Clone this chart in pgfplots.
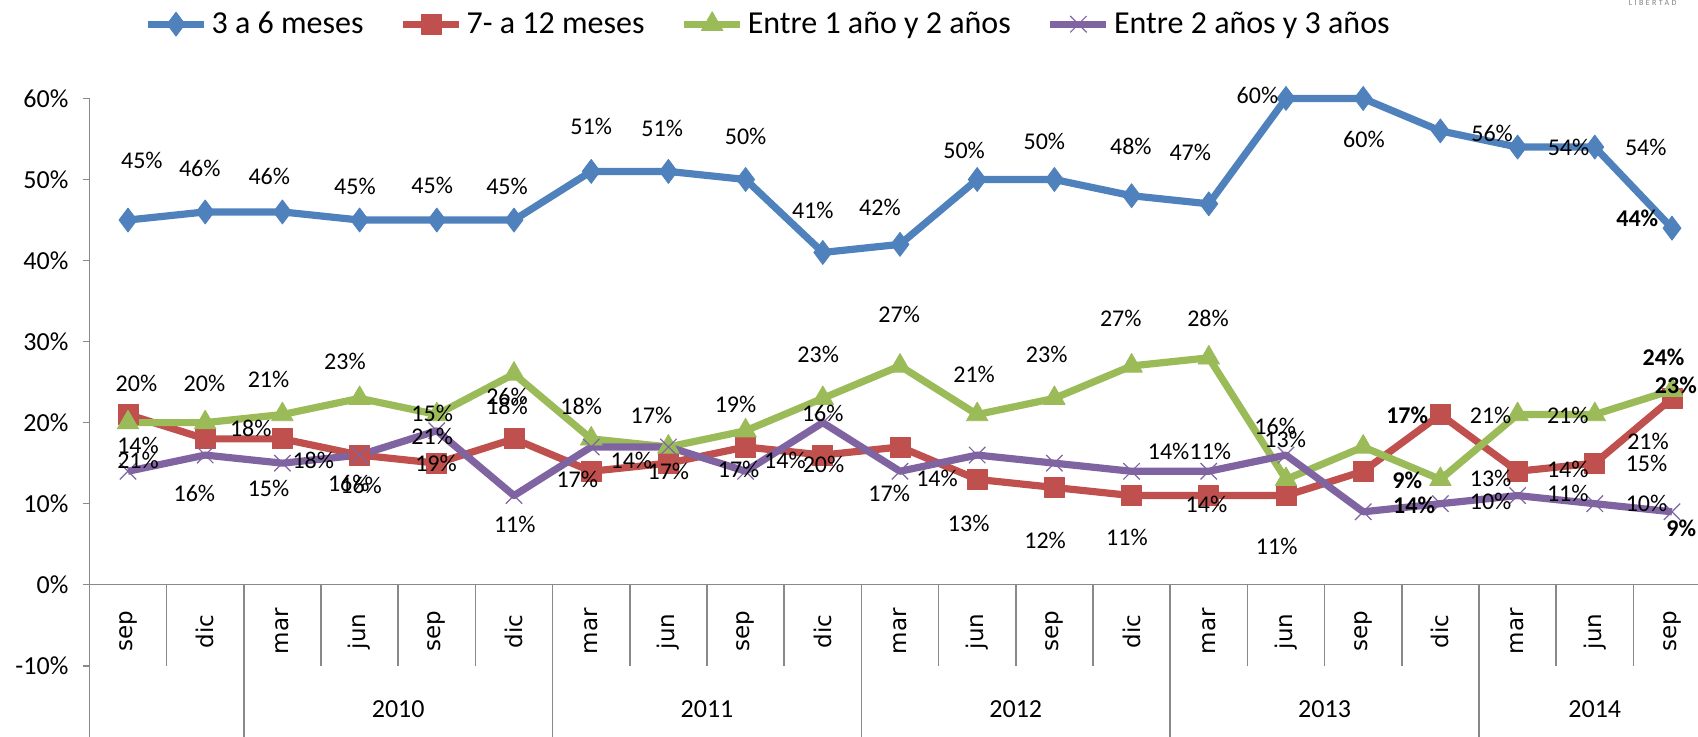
\documentclass[border=0pt]{standalone}
\usepackage{fontspec}
\setmainfont{Carlito}
\newfontfamily\monthfont{DejaVu Sans}
\usepackage{pgfplots}
\usepackage{pgfplotstable}
\pgfplotsset{compat=1.18}

\definecolor{sblue}{HTML}{4F81BD}
\definecolor{sred}{HTML}{C0504D}
\definecolor{sgreen}{HTML}{9BBB59}
\definecolor{spurple}{HTML}{8064A2}
\definecolor{axgray}{HTML}{898989}

% series, one row per quarter (sep 2009 ... sep 2014)
\pgfplotstableread{
x y
0 45
1 46
2 46
3 45
4 45
5 45
6 51
7 51
8 50
9 41
10 42
11 50
12 50
13 48
14 47
15 60
16 60
17 56
18 54
19 54
20 44
}\tblue
\pgfplotstableread{
x y
0 21
1 18
2 18
3 16
4 15
5 18
6 14
7 15
8 17
9 16
10 17
11 13
12 12
13 11
14 11
15 11
16 14
17 21
18 14
19 15
20 23
}\tred
\pgfplotstableread{
x y
0 20
1 20
2 21
3 23
4 21
5 26
6 18
7 17
8 19
9 23
10 27
11 21
12 23
13 27
14 28
15 13
16 17
17 13
18 21
19 21
20 24
}\tgreen
\pgfplotstableread{
x y
0 14
1 16
2 15
3 16
4 19
5 11
6 17
7 17
8 14
9 20
10 14
11 16
12 15
13 14
14 14
15 16
16 9
17 10
18 11
19 10
20 9
}\tpurple

% data labels as placed in the original (x, y of label centre, value)
\pgfplotstableread{
x y t
0.18 52.4 45
0.93 51.4 46
1.83 50.4 46
2.94 49.1 45
3.94 49.3 45
4.91 49.1 45
6.00 56.5 51
6.92 56.3 51
8.00 55.3 50
8.87 46.2 41
9.74 46.6 42
10.83 53.6 50
11.87 54.7 50
12.99 54.1 48
13.76 53.4 47
14.63 60.4 60
16.01 54.9 60
17.67 55.7 56
18.66 53.9 54
19.66 53.9 54
0.11 24.9 20
0.99 24.9 20
1.82 25.3 21
2.81 27.5 23
3.94 21.2 15
4.91 23.2 26
4.91 22.0 18
5.87 22.0 18
0.13 17.2 14
0.13 15.4 21
1.59 19.3 18
2.40 15.4 18
3.94 18.3 21
3.99 15.0 19
0.86 11.3 16
1.82 11.9 15
2.86 12.5 16
3.02 12.3 16
5.82 13.0 17
5.01 7.4 11
6.78 20.95 17
7.87 22.3 19
8.94 28.4 23
9.99 33.3 27
10.96 25.9 21
11.90 28.4 23
12.86 32.9 27
9.00 21.2 16
6.52 15.4 14
7.00 13.95 17
7.91 14.2 17
8.51 15.4 14
9.01 14.8 20
9.86 11.3 17
10.48 13.1 14
10.89 7.6 13
11.88 5.5 12
12.94 5.9 11
13.48 16.4 14
14.02 16.4 11
13.97 9.85 14
14.86 19.5 16
14.99 17.9 13
14.88 4.7 11
13.99 32.9 28
17.65 20.95 21
17.65 13.1 13
17.65 10.25 10
18.65 20.95 21
18.65 14.2 14
18.65 11.3 11
19.69 17.7 21
19.67 15.0 15
19.67 10.05 10
}\tlbl
\pgfplotstableread{
x y t
19.55 45.2 44
16.57 20.95 17
16.57 12.9 9
16.66 9.85 14
19.89 28.1 24
20.05 24.65 23
20.12 7.0 9
}\tlblbold

\begin{document}
\begin{tikzpicture}
\begin{axis}[
    scale only axis,
    width=810.7pt, height=283.7pt,
    xmin=-0.5, xmax=20.5, ymin=-10, ymax=60,
    clip=false,
    axis x line*=bottom, axis y line*=left,
    x axis line style={draw=none},
    y axis line style={draw=axgray, line width=0.75pt},
    xtick={0,...,20},
    xticklabels={sep,dic,mar,jun,sep,dic,mar,jun,sep,dic,mar,jun,sep,dic,mar,jun,sep,dic,mar,jun,sep},
    x tick style={draw=none},
    xticklabel style={font=\monthfont\fontsize{11.5}{13}\selectfont, rotate=90, anchor=center},
    xticklabel shift=-20.25pt,
    ytick={-10,0,10,20,30,40,50,60},
    yticklabels={-10\%,0\%,10\%,20\%,30\%,40\%,50\%,60\%},
    y tick style={draw=axgray, line width=0.75pt},
    tick align=outside,
    major tick length=3pt,
    yticklabel style={font=\fontsize{13}{15}\selectfont, xshift=-4pt},
    legend columns=4,
    legend style={draw=none, fill=none, at={(0.030,1.131)}, anchor=west,
        font=\fontsize{16}{19}\selectfont,
        /tikz/every even column/.append style={column sep=16pt}},
    legend image code/.code={\draw[mark repeat=2, mark phase=2, #1]
        plot coordinates {(0pt,0pt) (14pt,0pt) (28pt,0pt)};},
    every axis plot/.append style={line width=3.6pt, line join=round},
]
% category separators and base line
\pgfplotsinvokeforeach{0.5,2.5,3.5,4.5,6.5,7.5,8.5,10.5,11.5,12.5,14.5,15.5,16.5,18.5,19.5}{
    \draw[axgray, line width=0.75pt] (axis cs:#1,0) -- (axis cs:#1,-10);}
\pgfplotsinvokeforeach{-0.5,1.5,5.5,9.5,13.5,17.5}{
    \draw[axgray, line width=0.75pt] (axis cs:#1,0) -- (axis cs:#1,-20);}
\draw[axgray, line width=0.75pt] (axis cs:-0.5,0) -- (axis cs:20.5,0);

\addplot[color=sblue, mark=diamond*, mark size=6pt, mark options={line width=0.4pt}] table {\tblue};
\addplot[color=sred, mark=square*, mark size=5pt, mark options={line width=0.4pt}] table {\tred};
\addplot[color=sgreen, mark=triangle*, mark size=6.2pt, mark options={line width=0.4pt}] table {\tgreen};
\addplot[color=spurple, mark=x, mark size=5.8pt, mark options={line width=0.6pt}] table {\tpurple};
\legend{3 a 6 meses, 7- a 12 meses, Entre 1 año y 2 años, Entre 2 años y 3 años}

\addplot[forget plot, draw=none, mark=none, nodes near coords={\pgfplotspointmeta\%},
    point meta=explicit symbolic, nodes near coords align={center},
    every node near coord/.style={font=\fontsize{12}{14}\selectfont, inner sep=0pt, anchor=center, text=black}]
    table[meta=t] {\tlbl};
\addplot[forget plot, draw=none, mark=none, nodes near coords={\pgfplotspointmeta\%},
    point meta=explicit symbolic, nodes near coords align={center},
    every node near coord/.style={font=\fontsize{12}{14}\selectfont\bfseries, inner sep=0pt, anchor=center, text=black}]
    table[meta=t] {\tlblbold};

% year row
\node[font=\fontsize{13}{15}\selectfont] at (axis cs:3.5,-15.37) {2010};
\node[font=\fontsize{13}{15}\selectfont] at (axis cs:7.5,-15.37) {2011};
\node[font=\fontsize{13}{15}\selectfont] at (axis cs:11.5,-15.37) {2012};
\node[font=\fontsize{13}{15}\selectfont] at (axis cs:15.5,-15.37) {2013};
\node[font=\fontsize{13}{15}\selectfont] at (axis cs:19,-15.37) {2014};
\node[font=\fontsize{4}{4}\selectfont\addfontfeatures{LetterSpace=30}, text=gray] at (axis cs:19.75,71.75) {LIBERTAD};

\coordinate (bbsw) at (axis cs:-1.658,-18.78);
\coordinate (bbne) at (axis cs:20.337,72.15);
\end{axis}
\pgfresetboundingbox
\path[use as bounding box] (bbsw) rectangle (bbne);
\end{tikzpicture}
\end{document}
